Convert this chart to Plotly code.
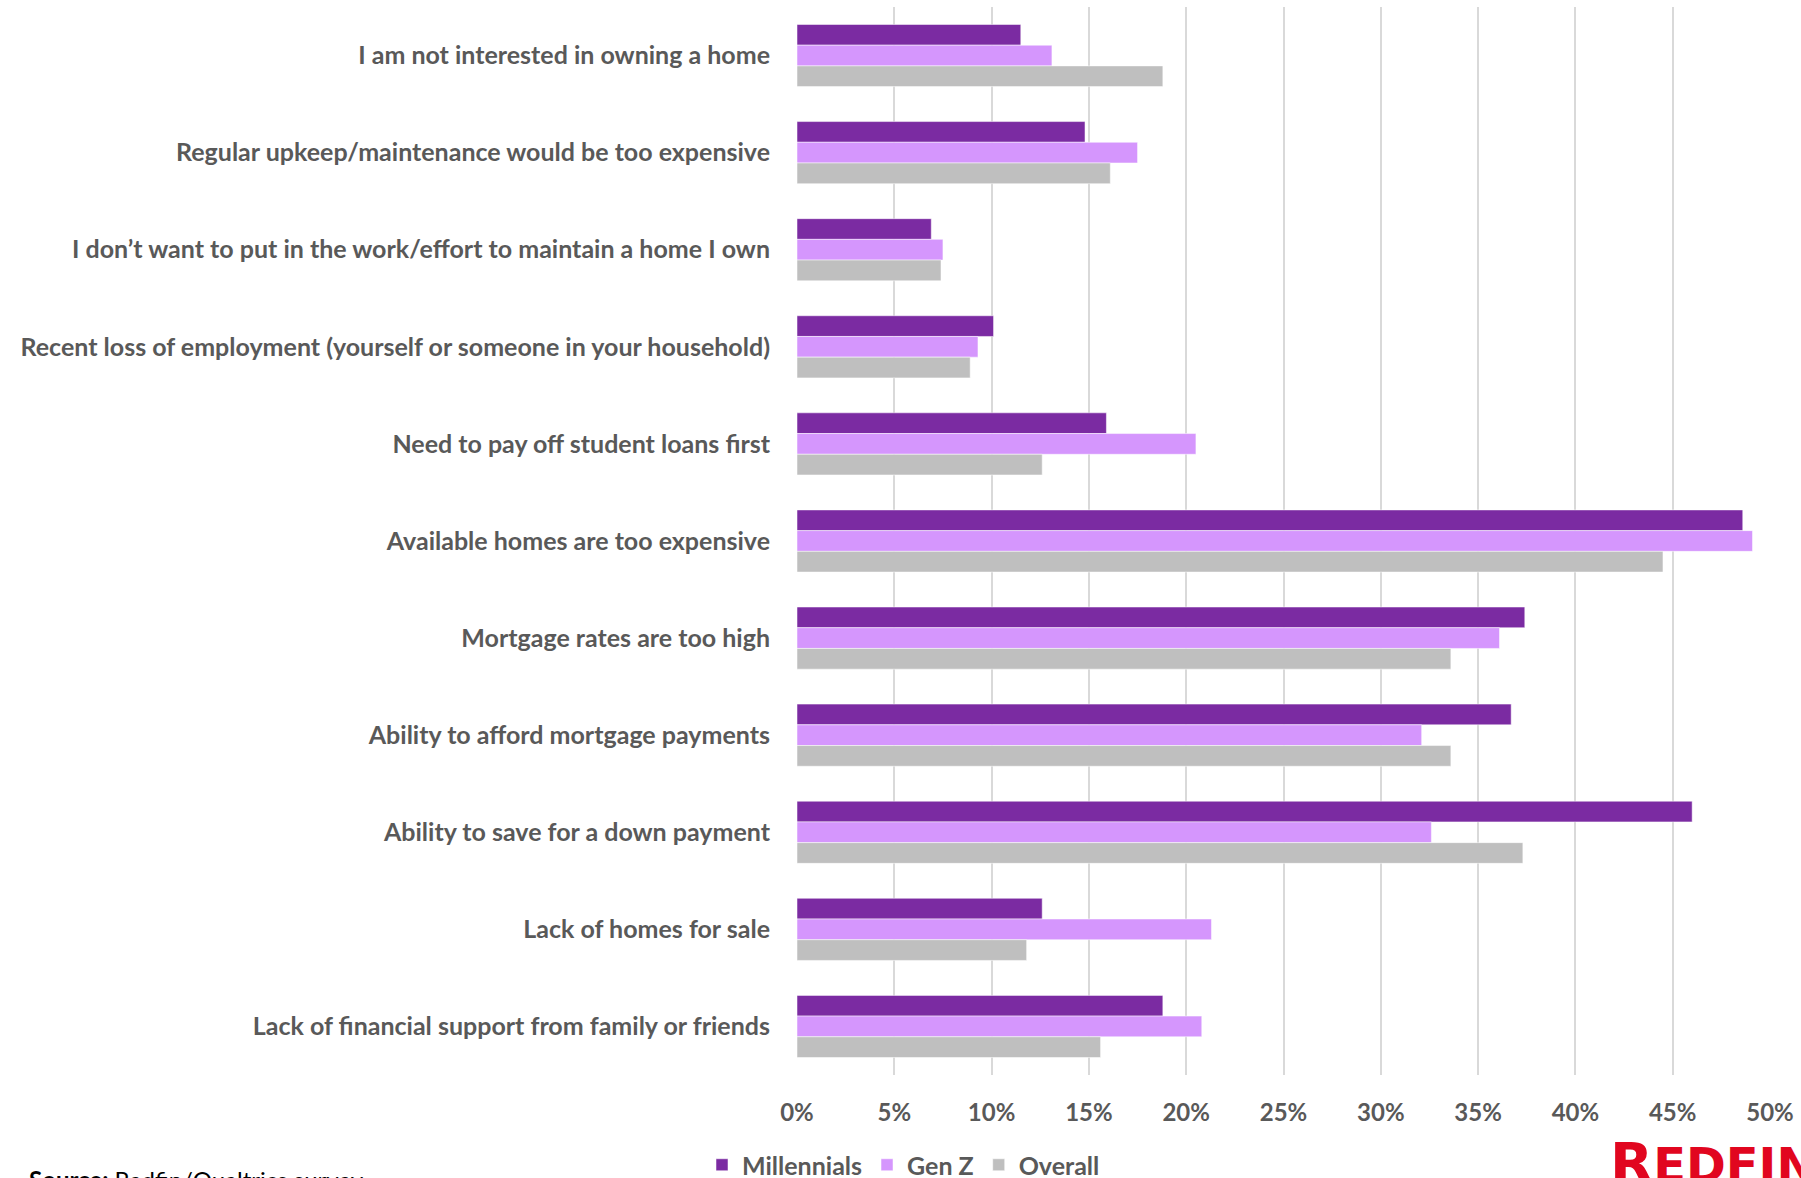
import plotly.graph_objects as go

# Survey reasons (top to bottom as drawn)
categories = [
    "I am not interested in owning a home",
    "Regular upkeep/maintenance would be too expensive",
    "I don\u2019t want to put in the work/effort to maintain a home I own",
    "Recent loss of employment (yourself or someone in your household)",
    "Need to pay off student loans first",
    "Available homes are too expensive",
    "Mortgage rates are too high",
    "Ability to afford mortgage payments",
    "Ability to save for a down payment",
    "Lack of homes for sale",
    "Lack of financial support from family or friends",
]

# Share of respondents citing each reason (%)
millennials = [11.5, 14.8, 6.9, 10.1, 15.9, 48.6, 37.4, 36.7, 46.0, 12.6, 18.8]
gen_z = [13.1, 17.5, 7.5, 9.3, 20.5, 49.1, 36.1, 32.1, 32.6, 21.3, 20.8]
overall = [18.8, 16.1, 7.4, 8.9, 12.6, 44.5, 33.6, 33.6, 37.3, 11.8, 15.6]

x_ticks = [0, 5, 10, 15, 20, 25, 30, 35, 40, 45, 50]
x_tick_labels = [f"{v}%" for v in x_ticks]

FONT = "Lato"
GREY_TEXT = "#595959"

series = [
    ("Millennials", millennials, "#7B2BA2"),
    ("Gen Z", gen_z, "#D596FD"),
    ("Overall", overall, "#BFBFBF"),
]

# plot area in pixels: x 797..1770, y 7..1075
PLOT_L, PLOT_R, PLOT_T, PLOT_B = 797, 1770, 7, 1075


def px_x(px):
    return (px - PLOT_L) / (PLOT_R - PLOT_L)


def px_y(py):
    return (PLOT_B - py) / (PLOT_B - PLOT_T)


fig = go.Figure()
for name, vals, color in series:
    fig.add_trace(go.Bar(
        y=categories,
        x=vals,
        name=name,
        orientation="h",
        marker=dict(color=color, line=dict(color="rgba(255,255,255,0.5)", width=1)),
    ))

fig.update_layout(
    width=1801,
    height=1178,
    margin=dict(l=PLOT_L, r=1801 - PLOT_R, t=PLOT_T, b=1178 - PLOT_B, autoexpand=False),
    paper_bgcolor="white",
    plot_bgcolor="white",
    barmode="group",
    bargap=0.36,
    bargroupgap=0,
    font=dict(family=FONT, color=GREY_TEXT),
    showlegend=True,
    legend=dict(
        orientation="h",
        x=px_x(702),
        xanchor="left",
        y=px_y(1165),
        yanchor="middle",
        font=dict(family=FONT, size=25, color=GREY_TEXT, weight="bold"),
        traceorder="normal",
        itemclick=False,
        borderwidth=0,
    ),
)

fig.update_xaxes(
    range=[0, 50],
    tickvals=x_ticks,
    ticktext=x_tick_labels,
    showgrid=True,
    gridcolor="#D9D9D9",
    gridwidth=2,
    zeroline=False,
    showline=False,
    ticks="",
    ticklabelstandoff=21,
    tickfont=dict(family=FONT, size=24, color=GREY_TEXT, weight="bold"),
)

fig.update_yaxes(
    autorange="reversed",
    showgrid=False,
    zeroline=False,
    showline=False,
    ticks="",
    ticklabelstandoff=26,
    tickfont=dict(family=FONT, size=25, color=GREY_TEXT, weight="bold"),
)

# Source note and logo along the bottom edge
fig.add_annotation(
    xref="paper", yref="paper",
    x=px_x(27), y=px_y(1163),
    xanchor="left", yanchor="top",
    text="<b>Source:</b> Redfin/Qualtrics survey",
    showarrow=False,
    font=dict(family=FONT, size=24, color="#000000"),
)
fig.add_annotation(
    xref="paper", yref="paper",
    x=px_x(1608), y=px_y(1128),
    xanchor="left", yanchor="top",
    text="<span style='font-size:56px'>R</span>EDFIN",
    showarrow=False,
    font=dict(family="DejaVu Sans", size=48, color="#E1061F", weight="bold"),
)

fig.write_html("out.html")
